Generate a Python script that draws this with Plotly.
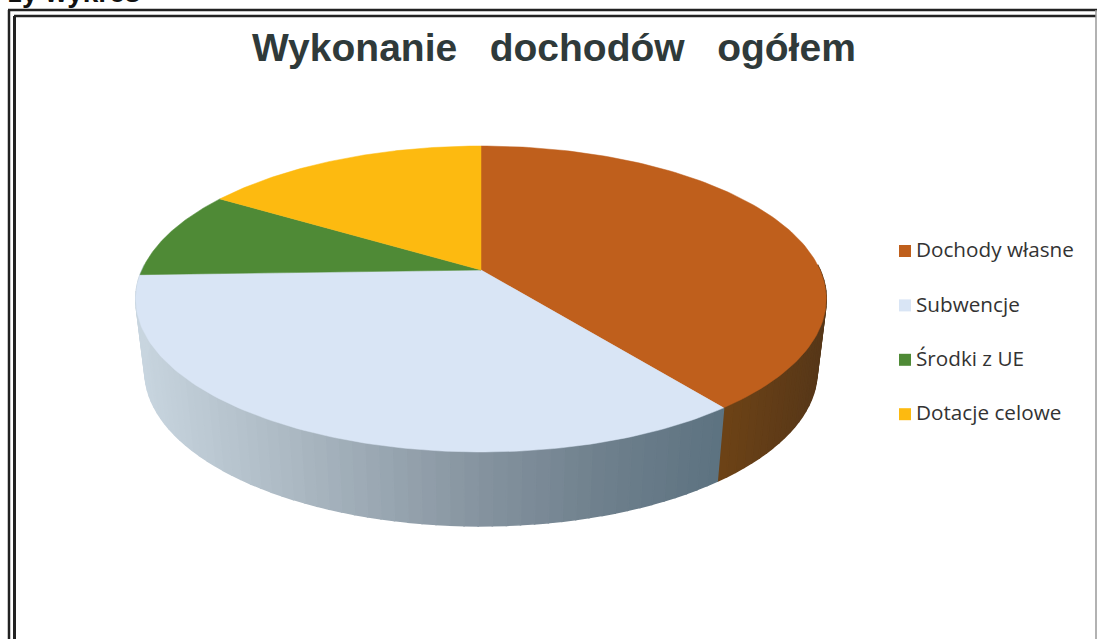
import numpy as np
import plotly.graph_objects as go

# Revenue structure, percent of the total
categories = ["Dochody własne", "Subwencje", "Środki z UE", "Dotacje celowe"]
shares = [39.6, 34.9, 9.4, 16.1]
top_colors = ["#BF5F1C", "#D9E5F5", "#4F8A36", "#FDBA10"]
title_text = "Wykonanie   dochodów   ogółem"
heading_text = "zy wykres"

W, H = 1098, 639
TILT = 0.1895  # perspective strength of the tilted disc
TOP = dict(x0=481.0, y0=270.0, a=147.5, b=339.0)
BOTTOM = dict(x0=481.0, y0=342.0, a=149.0, b=330.0)

# Side-wall shading: horizontal position -> colour
SIDE_SHADES = [
    ([136, 300, 480, 600, 722], [(201, 214, 224), (170, 183, 193), (133, 147, 159), (111, 128, 141), (92, 114, 128)]),
    ([716, 826], [(110, 67, 22), (85, 54, 24)]),
]


def rim(theta_deg, disc):
    """Project a point of the unit circle; theta runs clockwise from 12 o'clock."""
    t = np.radians(theta_deg)
    X, Y = np.sin(t), np.cos(t)
    w = 1 + TILT * Y
    return disc["x0"] + disc["b"] * X / w, disc["y0"] - disc["a"] * Y / w


def shade(x, stops):
    xs, cols = stops
    rgb = [np.interp(x, xs, [c[i] for c in cols]) for i in range(3)]
    return "rgb({:.0f},{:.0f},{:.0f})".format(*rgb)


edges = np.concatenate([[0], np.cumsum(shares)]) / sum(shares) * 360
fig = go.Figure()

# Side wall: only the two front slices show, the others are hidden behind the top face
step = 2.0
for start, end, stops in [(88, edges[1], SIDE_SHADES[1]), (edges[1], 272, SIDE_SHADES[0])]:
    n = int(np.ceil((end - start) / step))
    ticks = np.linspace(start, end, n + 1)
    for t0, t1 in zip(ticks[:-1], ticks[1:]):
        xa, ya = rim(np.array([t0, t1]), TOP)
        xb, yb = rim(np.array([t1, t0]), BOTTOM)
        color = shade((xa.mean() + xb.mean()) / 2, stops)
        fig.add_trace(go.Scatter(
            x=[*xa, *xb, xa[0]], y=[*ya, *yb, ya[0]], mode="lines", fill="toself",
            fillcolor=color, line=dict(color=color, width=1.6),
            showlegend=False, hoverinfo="skip",
        ))

# Top face, one wedge per category
for i, name in enumerate(categories):
    arc = np.linspace(edges[i], edges[i + 1], 120)
    ax, ay = rim(arc, TOP)
    fig.add_trace(go.Scatter(
        x=[TOP["x0"], *ax, TOP["x0"]], y=[TOP["y0"], *ay, TOP["y0"]], mode="lines", fill="toself",
        fillcolor=top_colors[i], line=dict(color=top_colors[i], width=0.5),
        name=name, showlegend=False, hoverinfo="name",
    ))

# Legend column: swatch and label for each category
legend_x = 905
legend_text_x = 916
legend_first_row = 251
legend_row_gap = 54.4
legend_rows = [legend_first_row + i * legend_row_gap for i in range(len(categories))]
fig.add_trace(go.Scatter(
    x=[legend_x] * len(categories), y=legend_rows, mode="markers",
    marker=dict(symbol="square", size=12, color=top_colors),
    showlegend=False, hoverinfo="skip",
))
fig.add_trace(go.Scatter(
    x=[legend_text_x] * len(categories), y=[r + 1 for r in legend_rows],
    mode="text", text=categories, textposition="middle right",
    textfont=dict(family="Open Sans", size=20.7, color="#333333"),
    showlegend=False, hoverinfo="skip",
))

# Double frame around the chart
frame_segments = [
    (8, 10, 1097, 10, 2.5), (14, 16, 1096, 16, 2.5),
    (9, 10, 9, H, 2.5), (14.5, 16, 14.5, H, 3),
]
shapes = [
    dict(type="line", xref="x", yref="y", x0=x0, y0=y0, x1=x1, y1=y1,
         line=dict(color="#222222", width=w), layer="below")
    for x0, y0, x1, y1, w in frame_segments
]
shapes.append(dict(type="line", xref="x", yref="y", x0=1096, y0=10, x1=1096, y1=H,
                   line=dict(color="#999999", width=1.5), layer="below"))

fig.update_layout(
    width=W, height=H, margin=dict(l=0, r=0, t=0, b=0),
    paper_bgcolor="white", plot_bgcolor="white", showlegend=False,
    xaxis=dict(range=[0, W], visible=False, fixedrange=True),
    yaxis=dict(range=[H, 0], visible=False, fixedrange=True),
    shapes=shapes,
    annotations=[
        dict(text=f"<b>{title_text}</b>", x=554, y=47, xref="x", yref="y", showarrow=False,
             font=dict(family="Liberation Sans", size=39, color="#2F3A3A")),
        dict(text=f"<b>{heading_text}</b>", x=0, y=1 + 8 / H, xref="paper", yref="paper",
             xanchor="left", yanchor="middle", xshift=6, showarrow=False,
             font=dict(family="Liberation Sans", size=28, color="#111111")),
    ],
)

fig.write_html("out.html")
